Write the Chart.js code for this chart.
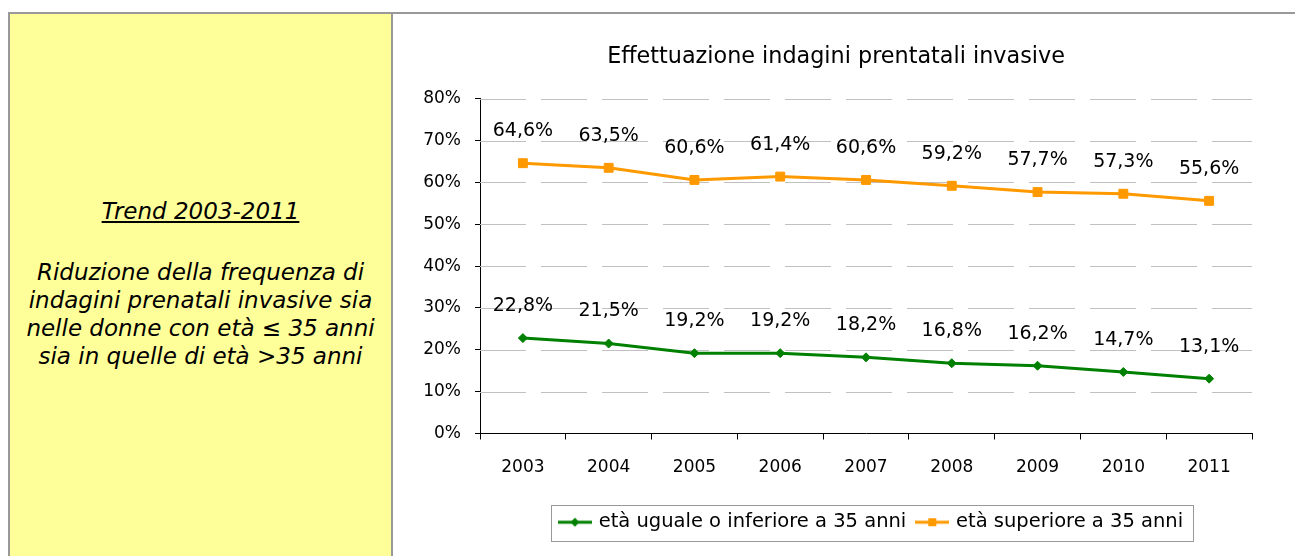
<!DOCTYPE html>
<html>
<head>
<meta charset="utf-8">
<script src="https://cdn.jsdelivr.net/npm/chart.js@4.4.1/dist/chart.umd.min.js"></script>
<style>
body { margin: 0; width: 1295px; height: 556px; overflow: hidden; background: #fff; position: relative; font-family: "DejaVu Sans", sans-serif; }
#topline { position: absolute; left: 8px; top: 12px; width: 1287px; height: 2px; background: #999; }
#side { position: absolute; left: 8px; top: 12px; width: 381px; height: 560px; background: #ffff99; border: 2px solid #999; border-bottom: none; }
#side div { position: absolute; left: 0; width: 100%; text-align: center; font-style: italic; font-size: 23px; line-height: 28px; color: #000; }
#trend { top: 183px; text-decoration: underline; }
#note { top: 244px; }
#wrap { position: absolute; left: 420px; top: 14px; width: 875px; height: 542px; }
</style>
</head>
<body>
<div id="topline"></div>
<div id="side">
  <div id="trend">Trend 2003-2011</div>
  <div id="note">Riduzione della frequenza di<br>indagini prenatali invasive sia<br>nelle donne con età ≤ 35 anni<br>sia in quelle di età &gt;35 anni</div>
</div>
<div id="wrap"><canvas id="chart"></canvas></div>
<script>
var years = ['2003', '2004', '2005', '2006', '2007', '2008', '2009', '2010', '2011'];
var under35 = [22.8, 21.5, 19.2, 19.2, 18.2, 16.8, 16.2, 14.7, 13.1];
var over35 = [64.6, 63.5, 60.6, 61.4, 60.6, 59.2, 57.7, 57.3, 55.6];
var yTicks = [0, 10, 20, 30, 40, 50, 60, 70, 80];
var seriesNames = ['età uguale o inferiore a 35 anni', 'età superiore a 35 anni'];
var titleText = 'Effettuazione indagini prentatali invasive';

var green = '#008000', orange = '#ff9900';
var font = '"DejaVu Sans", sans-serif';

var fmt = function(v) {
    return v.toFixed(1).replace('.', ',') + '%';
};

// small canvas used as legend symbol: line with the marker on it
var legendIcon = function(color, style) {
    var c = document.createElement('canvas');
    c.width = 34;
    c.height = 12;
    var x = c.getContext('2d');
    x.strokeStyle = color;
    x.fillStyle = color;
    x.lineWidth = 3;
    x.beginPath();
    x.moveTo(0, 6);
    x.lineTo(34, 6);
    x.stroke();
    x.beginPath();
    if (style == 'rect') {
        x.rect(13, 2, 8, 8);
    } else {
        x.moveTo(17, 1.5); x.lineTo(21.5, 6); x.lineTo(17, 10.5); x.lineTo(12.5, 6);
        x.closePath();
    }
    x.fill();
    return c;
};

// dashed horizontal grid lines
var dashedGrid = {
    id: 'dashedGrid',
    beforeDatasetsDraw: function(chart) {
        var ctx = chart.ctx, a = chart.chartArea, y = chart.scales.y;
        ctx.save();
        ctx.strokeStyle = '#c0c0c0';
        ctx.lineWidth = 1;
        ctx.setLineDash([46, 15]);
        yTicks.forEach(function(v) {
            if (v === 0) return;
            var py = Math.round(y.getPixelForValue(v)) + 0.5;
            ctx.beginPath();
            ctx.moveTo(a.left, py);
            ctx.lineTo(a.right, py);
            ctx.stroke();
        });
        ctx.restore();
    }
};

var valueLabels = {
    id: 'valueLabels',
    afterDatasetsDraw: function(chart) {
        var ctx = chart.ctx;
        ctx.save();
        ctx.font = '19px ' + font;
        ctx.fillStyle = '#000';
        ctx.textAlign = 'center';
        ctx.textBaseline = 'middle';
        chart.data.datasets.forEach(function(ds, i) {
            chart.getDatasetMeta(i).data.forEach(function(pt, j) {
                ctx.fillText(fmt(ds.data[j]), pt.x, pt.y - 32);
            });
        });
        ctx.restore();
    }
};

var legendBorder = {
    id: 'legendBorder',
    afterUpdate: function(chart) {
        var lg = chart.legend;
        if (!lg) return;
        lg.left += 6;
        lg.right += 6;
        (lg.legendHitBoxes || []).forEach(function(h) { h.left += 6; });
    },
    afterDraw: function(chart) {
        var hb = chart.legend && chart.legend.legendHitBoxes;
        if (!hb || !hb.length) return;
        var l = 1e9, r = -1e9, t = 1e9, b = -1e9;
        hb.forEach(function(h) {
            l = Math.min(l, h.left);
            r = Math.max(r, h.left + h.width);
            t = Math.min(t, h.top);
            b = Math.max(b, h.top + h.height);
        });
        var ctx = chart.ctx;
        ctx.save();
        ctx.strokeStyle = '#999';
        ctx.lineWidth = 1;
        ctx.strokeRect(Math.round(l - 10) + 0.5, Math.round(t - 8) + 0.5, Math.round(r - l + 20), Math.round(b - t + 16));
        ctx.restore();
    }
};

var chart = new Chart(document.getElementById('chart'), {
    type: 'line',
    data: {
        labels: years,
        datasets: [{
            label: seriesNames[0],
            data: under35,
            borderColor: green,
            backgroundColor: green,
            borderWidth: 3,
            pointStyle: 'rectRot',
            pointRadius: 4.5,
            pointBorderWidth: 1,
            pointBackgroundColor: green,
            tension: 0
        }, {
            label: seriesNames[1],
            data: over35,
            borderColor: orange,
            backgroundColor: orange,
            borderWidth: 3,
            pointStyle: 'rect',
            pointRadius: 6.3,
            pointBorderWidth: 1,
            pointBackgroundColor: orange,
            tension: 0
        }]
    },
    options: {
        responsive: true,
        maintainAspectRatio: false,
        animation: false,
        layout: { padding: { left: 0, right: 43, top: 0, bottom: 14 } },
        scales: {
            x: {
                offset: true,
                afterFit: function(s) { s.height = 67; },
                grid: { display: true, drawOnChartArea: false, offset: true, tickLength: 6, tickColor: '#000' },
                border: { color: '#000', width: 1 },
                ticks: { color: '#000', font: { family: font, size: 17 }, padding: 18, maxRotation: 0 }
            },
            y: {
                min: 0,
                max: 80,
                afterBuildTicks: function(s) {
                    s.ticks = yTicks.map(function(v) { return { value: v }; });
                },
                afterFit: function(s) { s.width = 60; },
                grid: { drawOnChartArea: false, tickLength: 5, tickColor: '#000' },
                border: { color: '#000', width: 1 },
                ticks: {
                    color: '#000',
                    font: { family: font, size: 17 },
                    padding: 14,
                    callback: function(v) { return v + '%'; }
                }
            }
        },
        plugins: {
            title: {
                display: true,
                text: titleText,
                color: '#000',
                font: { family: font, size: 22.3, weight: 'normal' },
                padding: { top: 30, bottom: 28 }
            },
            legend: {
                position: 'bottom',
                fullSize: false,
                labels: {
                    color: '#000',
                    font: { family: font, size: 19.5 },
                    usePointStyle: true,
                    pointStyleWidth: 28,
                    padding: 12,
                    generateLabels: function(ch) {
                        return [
                            { text: seriesNames[0], pointStyle: legendIcon(green, 'diamond'), fillStyle: green, strokeStyle: green, lineWidth: 0, datasetIndex: 0 },
                            { text: seriesNames[1], pointStyle: legendIcon(orange, 'rect'), fillStyle: orange, strokeStyle: orange, lineWidth: 0, datasetIndex: 1 }
                        ];
                    }
                }
            },
            tooltip: { enabled: false }
        }
    },
    plugins: [dashedGrid, valueLabels, legendBorder]
});
</script>
</body>
</html>
